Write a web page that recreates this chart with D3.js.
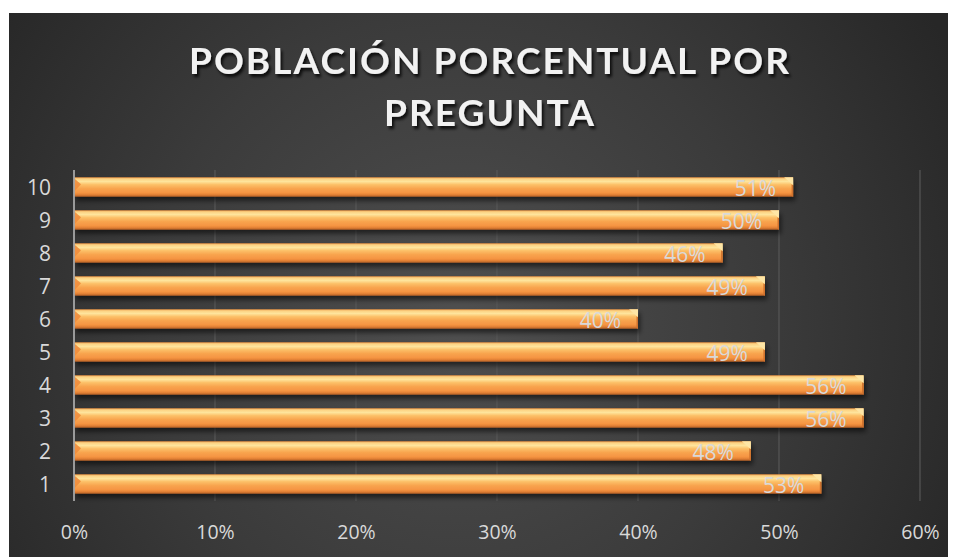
<!DOCTYPE html>
<html>
<head>
<meta charset="utf-8">
<script src="https://cdn.jsdelivr.net/npm/d3@7"></script>
<style>
  html, body { margin: 0; padding: 0; background: #ffffff; }
  svg { display: block; }
</style>
</head>
<body>
<svg id="chart" width="956" height="557"></svg>
<script>
// ---- Data ----
const titleLines = ["POBLACIÓN PORCENTUAL POR", "PREGUNTA"];
const categories = ["1", "2", "3", "4", "5", "6", "7", "8", "9", "10"];
const values = [0.53, 0.48, 0.56, 0.56, 0.49, 0.40, 0.49, 0.46, 0.50, 0.51];
const xTicks = [0, 0.1, 0.2, 0.3, 0.4, 0.5, 0.6];

const svg = d3.select("#chart");

// ---- defs ----
const defs = svg.append("defs");
const bg = defs.append("radialGradient").attr("id", "bgGrad")
  .attr("gradientUnits", "userSpaceOnUse")
  .attr("cx", 460).attr("cy", 320).attr("r", 560);
bg.append("stop").attr("offset", "0%").attr("stop-color", "#4f4f4f");
bg.append("stop").attr("offset", "55%").attr("stop-color", "#3b3b3b");
bg.append("stop").attr("offset", "100%").attr("stop-color", "#272727");

const bar = defs.append("linearGradient").attr("id", "barGrad")
  .attr("x1", 0).attr("y1", 0).attr("x2", 0).attr("y2", 1);
[["0%", "#e8913f"], ["8%", "#fcd283"], ["22%", "#fee49c"], ["38%", "#fcc068"],
 ["58%", "#f8a44e"], ["80%", "#f59442"], ["91%", "#de7d33"], ["100%", "#aa5c25"]]
  .forEach(([o, c]) => bar.append("stop").attr("offset", o).attr("stop-color", c));

const shadow = defs.append("filter").attr("id", "shadow")
  .attr("x", "-5%").attr("y", "-50%").attr("width", "115%").attr("height", "220%");
shadow.append("feGaussianBlur").attr("in", "SourceAlpha").attr("stdDeviation", 2.5).attr("result", "b");
shadow.append("feOffset").attr("in", "b").attr("dx", 2).attr("dy", 3.5).attr("result", "o");
shadow.append("feComponentTransfer").attr("in", "o").attr("result", "s")
  .append("feFuncA").attr("type", "linear").attr("slope", 0.55);
const m1 = shadow.append("feMerge");
m1.append("feMergeNode").attr("in", "s");
m1.append("feMergeNode").attr("in", "SourceGraphic");

const tshadow = defs.append("filter").attr("id", "tshadow")
  .attr("x", "-5%").attr("y", "-30%").attr("width", "110%").attr("height", "160%");
tshadow.append("feGaussianBlur").attr("in", "SourceAlpha").attr("stdDeviation", 1.5).attr("result", "b");
tshadow.append("feOffset").attr("in", "b").attr("dx", 2).attr("dy", 2.5).attr("result", "o");
tshadow.append("feComponentTransfer").attr("in", "o").attr("result", "s")
  .append("feFuncA").attr("type", "linear").attr("slope", 0.8);
const m2 = tshadow.append("feMerge");
m2.append("feMergeNode").attr("in", "s");
m2.append("feMergeNode").attr("in", "SourceGraphic");

// ---- Background ----
svg.append("rect").attr("x", 9).attr("y", 13).attr("width", 939).attr("height", 544)
  .attr("fill", "url(#bgGrad)");

// ---- Scales ----
const x = d3.scaleLinear().domain([0, 0.6]).range([74, 920]);
const y = d3.scaleBand().domain(categories.slice().reverse()).range([170.5, 500.5])
  .paddingInner(0.41).paddingOuter(0.205);

// ---- Gridlines ----
svg.append("g").selectAll("line").data(xTicks.slice(1)).join("line")
  .attr("x1", d => x(d)).attr("x2", d => x(d))
  .attr("y1", 170).attr("y2", 501)
  .attr("stroke", "#575757").attr("stroke-width", 1.2);

// ---- X axis labels ----
const xAxis = d3.axisBottom(x).tickValues(xTicks).tickFormat(d3.format(".0%")).tickSize(0);
const gx = svg.append("g").attr("transform", "translate(0,501)").call(xAxis);
gx.select(".domain").remove();
gx.selectAll("text").attr("fill", "#d9d9d9").attr("dy", 0)
  .attr("y", 38).attr("font-family", "Open Sans").attr("font-size", 19.5);

// ---- Y axis labels ----
const yAxis = d3.axisLeft(y).tickSize(0).tickPadding(23);
const gy = svg.append("g").attr("transform", "translate(74,0)").call(yAxis);
gy.select(".domain").remove();
gy.selectAll("text").attr("fill", "#d9d9d9").attr("dy", "0.36em")
  .attr("font-family", "Open Sans").attr("font-size", 21);

// ---- Bars ----
const data = categories.map((c, i) => ({ c, v: values[i] }));
const bars = svg.append("g").selectAll("g").data(data).join("g")
  .attr("filter", "url(#shadow)");
bars.append("rect")
  .attr("x", x(0)).attr("y", d => y(d.c))
  .attr("width", d => x(d.v) - x(0)).attr("height", y.bandwidth())
  .attr("fill", "url(#barGrad)");
// left bevel
bars.append("path")
  .attr("d", d => {
    const t = y(d.c), b = t + y.bandwidth(), x0 = x(0);
    return `M${x0},${t + 1}L${x0 + 7},${t + 7}L${x0},${b - 5}Z`;
  })
  .attr("fill", "#f08c3c").attr("opacity", 0.9);
// right bevel
bars.append("path")
  .attr("d", d => {
    const t = y(d.c), x1 = x(d.v);
    return `M${x1 - 9},${t}L${x1},${t}L${x1},${t + 8}Z`;
  })
  .attr("fill", "#fee6a6");
bars.append("path")
  .attr("d", d => {
    const t = y(d.c), b = t + y.bandwidth(), x1 = x(d.v);
    return `M${x1},${t + 8}L${x1},${b}L${x1 - 1.5},${b - 1}L${x1 - 1.5},${t + 7}Z`;
  })
  .attr("fill", "#d0722d");

// ---- Axis line ----
svg.append("line").attr("x1", x(0)).attr("x2", x(0)).attr("y1", 170).attr("y2", 501)
  .attr("stroke", "#a6a6a6").attr("stroke-width", 1.8);

// ---- Bar labels ----
svg.append("g").selectAll("text").data(data).join("text")
  .attr("x", d => x(d.v) - 17)
  .attr("y", d => y(d.c) + y.bandwidth() - 0.5)
  .attr("text-anchor", "end")
  .attr("font-family", "Open Sans").attr("font-size", 21)
  .attr("fill", "#d9d9d9")
  .text(d => d3.format(".0%")(d.v));

// ---- Title ----
const tg = svg.append("g").attr("filter", "url(#tshadow)");
const baselines = [74, 126];
let ls0 = 0;
titleLines.forEach((t, i) => {
  const tx = tg.append("text")
    .attr("x", 489).attr("y", baselines[i])
    .attr("text-anchor", "middle")
    .attr("font-family", "Lato").attr("font-weight", "bold")
    .attr("font-size", 37).attr("fill", "#f2f2f2")
    .text(t);
  if (i === 0) {
    const w0 = tx.node().getComputedTextLength();
    ls0 = (600 - w0) / (t.length - 1);
  }
  tx.attr("letter-spacing", ls0).attr("dx", ls0 / 2);
});
</script>
</body>
</html>
